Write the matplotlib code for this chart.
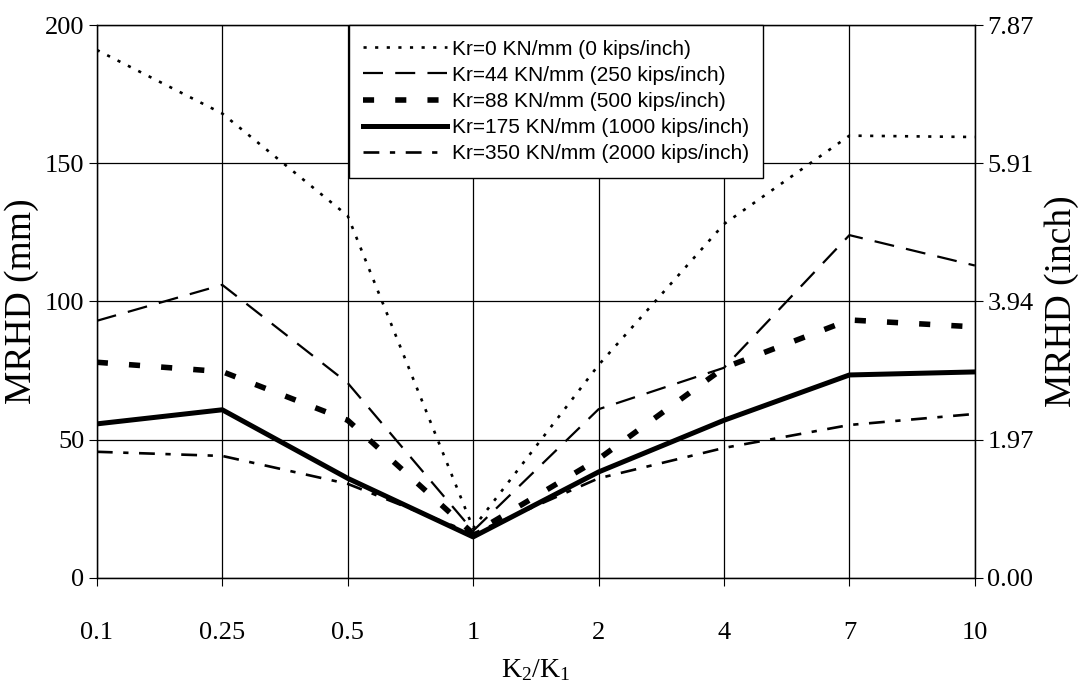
import matplotlib
matplotlib.use("Agg")
import matplotlib.pyplot as plt

# ---------------------------------------------------------------------------
# data (MRHD in mm)
# ---------------------------------------------------------------------------
ratios = ["0.1", "0.25", "0.5", "1", "2", "4", "7", "10"]

kr0 = [191, 168, 131, 18, 77, 128, 160, 159.5]
kr44 = [93, 106, 70.5, 17, 61, 76, 124, 113]
kr88 = [78, 74.6, 57, 16, 43, 76, 93.3, 90.8]
kr175 = [55.7, 60.8, 36, 14.8, 38.3, 57, 73.4, 74.5]
kr350 = [45.6, 44.1, 34, 16, 36, 47, 55.3, 59.3]

labels = ["Kr=0 KN/mm (0 kips/inch)",
          "Kr=44 KN/mm (250 kips/inch)",
          "Kr=88 KN/mm (500 kips/inch)",
          "Kr=175 KN/mm (1000 kips/inch)",
          "Kr=350 KN/mm (2000 kips/inch)"]

mm_ticks = [0, 50, 100, 150, 200]

serif = "Liberation Serif"
sans = "Liberation Sans"

plt.rcParams["mathtext.fontset"] = "custom"
plt.rcParams["mathtext.rm"] = serif
plt.rcParams["mathtext.it"] = serif + ":italic"

fig = plt.figure(figsize=(10.88, 6.97), dpi=100)
ax = fig.add_axes([0.089, 0.171, 0.807, 0.793])

x = list(range(len(ratios)))
ax.plot(x, kr0, color="black", lw=1.9, linestyle=(0, (1.2, 3.2)), label=labels[0])
ax.plot(x, kr44, color="black", lw=1.6, linestyle=(0, (9, 5.5)), label=labels[1])
ax.plot(x, kr88, color="black", lw=4.0, linestyle=(0, (2.0, 3.8)), label=labels[2])
ax.plot(x, kr175, color="black", lw=3.6, linestyle="-", label=labels[3])
ax.plot(x, kr350, color="black", lw=1.9, linestyle=(0, (6, 4, 2, 4)), label=labels[4])

ax.set_xlim(0, len(ratios) - 1)
ax.set_ylim(0, 200)
ax.set_xticks(x)
ax.set_xticklabels(ratios, family=serif, fontsize=19)
ax.set_yticks(mm_ticks)
ax.set_yticklabels([str(v) for v in mm_ticks], family=serif, fontsize=19)
ax.tick_params(axis="x", direction="out", length=6, pad=26, color="black")
ax.tick_params(axis="y", direction="out", length=6, pad=3, color="black")
ax.grid(True, color="black", lw=0.9)
ax.set_axisbelow(True)
for s in ax.spines.values():
    s.set_color("black")
    s.set_linewidth(1.0)

ax.set_xlabel("K$_2$/K$_1$", family=serif, fontsize=20, labelpad=9)
ax.set_ylabel("MRHD (mm)", family=serif, fontsize=27, labelpad=4)

# right axis in inches
ax2 = ax.twinx()
ax2.set_ylim(0, 200)
ax2.set_yticks(mm_ticks)
ax2.set_yticklabels(["%.2f" % (v / 25.4) for v in mm_ticks], family=serif, fontsize=19)
ax2.tick_params(axis="y", direction="out", length=6, pad=3)
ax2.set_ylabel("MRHD (inch)", family=serif, fontsize=27, labelpad=8)

leg = ax.legend(loc="upper center", bbox_to_anchor=(0.523, 1.0), borderaxespad=0,
                prop={"family": sans, "size": 15},
                handlelength=4.0, handletextpad=0.25, labelspacing=0.34, borderpad=0.7,
                fancybox=False, framealpha=1, edgecolor="black")
leg.get_frame().set_linewidth(1.0)

fig.savefig("out.png", dpi=100)
